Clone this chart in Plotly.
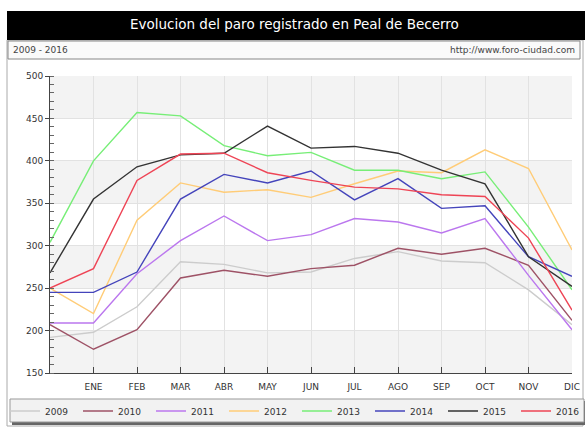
import plotly.graph_objects as go

months = ["ENE", "FEB", "MAR", "ABR", "MAY", "JUN", "JUL", "AGO", "SEP", "OCT", "NOV", "DIC"]
x_idx = list(range(13))  # 0 = start point (no label), 1..12 = months

years = ["2009", "2010", "2011", "2012", "2013", "2014", "2015", "2016"]
v2009 = [192, 198, 228, 281, 278, 268, 269, 285, 293, 282, 280, 248, 207]
v2010 = [207, 178, 201, 262, 271, 264, 273, 277, 297, 290, 297, 277, 212]
v2011 = [209, 209, 267, 306, 335, 306, 313, 332, 328, 315, 332, 265, 201]
v2012 = [250, 220, 330, 374, 363, 366, 357, 373, 388, 386, 413, 391, 295]
v2013 = [304, 400, 457, 453, 418, 406, 410, 389, 389, 379, 387, 322, 248]
v2014 = [245, 245, 269, 355, 384, 374, 388, 354, 379, 344, 347, 287, 264]
v2015 = [268, 355, 393, 407, 409, 441, 415, 417, 409, 389, 373, 287, 252]
v2016 = [250, 273, 377, 408, 409, 386, 377, 369, 367, 360, 358, 309, 224]
values = [v2009, v2010, v2011, v2012, v2013, v2014, v2015, v2016]
colors = ["#cccccc", "#9e5266", "#bb77ee", "#ffcc77", "#77ee77", "#4444bb", "#333333", "#ee4455"]

W, H = 585, 430
L, R, T, B = 50, 572, 76, 373  # plot area in pixels


def px(X):
    return (X - L) / (R - L)


def py(Y):
    return (B - Y) / (B - T)


fig = go.Figure()
for i, (name, vals, col) in enumerate(zip(years, values, colors)):
    fig.add_trace(go.Scatter(x=x_idx, y=vals, mode="lines", name=name,
                             line=dict(color=col, width=1.4),
                             legendwidth=(20 if i == len(years) - 1 else None)))

shapes = []
# alternating bands
for lo in [150, 250, 350, 450]:
    shapes.append(dict(type="rect", xref="paper", yref="y", x0=0, x1=1, y0=lo, y1=lo + 50,
                       fillcolor="#f3f3f3", line=dict(width=0), layer="below"))
# outer frame
shapes.append(dict(type="rect", xref="paper", yref="paper", x0=px(7), x1=px(583), y0=py(40), y1=py(426),
                   line=dict(color="#aaaaaa", width=1), fillcolor="rgba(0,0,0,0)", layer="below"))
# title bar
shapes.append(dict(type="rect", xref="paper", yref="paper", x0=px(7), x1=px(585), y0=py(11), y1=py(40),
                   fillcolor="#000000", line=dict(width=0), layer="below"))
# subtitle box
shapes.append(dict(type="rect", xref="paper", yref="paper", x0=px(8), x1=px(580), y0=py(41), y1=py(59),
                   fillcolor="#fafafa", line=dict(color="#888888", width=1), layer="below"))
# legend shadow + box
shapes.append(dict(type="rect", xref="paper", yref="paper", x0=px(12), x1=px(586), y0=py(401), y1=py(425),
                   fillcolor="#666666", line=dict(width=0), layer="below"))
shapes.append(dict(type="rect", xref="paper", yref="paper", x0=px(10), x1=px(584), y0=py(399), y1=py(422),
                   fillcolor="#f2f2f2", line=dict(color="#999999", width=1), layer="below"))

annotations = [
    dict(text="Evolucion del paro registrado en Peal de Becerro", xref="paper", yref="paper",
         x=px(294), y=py(24), xanchor="center", yanchor="middle", showarrow=False,
         font=dict(family="DejaVu Sans", size=13.5, color="#ffffff")),
    dict(text="2009 - 2016", xref="paper", yref="paper", x=px(11), y=py(50),
         xanchor="left", yanchor="middle", showarrow=False,
         font=dict(family="DejaVu Sans", size=9, color="#444444")),
    dict(text="http://www.foro-ciudad.com", xref="paper", yref="paper", x=px(577), y=py(50),
         xanchor="right", yanchor="middle", showarrow=False,
         font=dict(family="DejaVu Sans", size=9, color="#444444")),
]

fig.update_layout(
    width=W, height=H,
    margin=dict(l=L, r=W - R, t=T, b=H - B, pad=0, autoexpand=False),
    paper_bgcolor="#ffffff", plot_bgcolor="rgba(0,0,0,0)",
    shapes=shapes, annotations=annotations,
    showlegend=True,
    legend=dict(orientation="h", x=px(5), y=py(411), xanchor="left", yanchor="middle",
                bgcolor="rgba(0,0,0,0)", borderwidth=0,
                entrywidth=28, entrywidthmode="pixels",
                font=dict(family="DejaVu Sans", size=9, color="#333333"),
                traceorder="normal"),
    xaxis=dict(range=[0, 12], tickvals=list(range(1, 13)), ticktext=months,
               showgrid=True, gridcolor="#e2e2e2", gridwidth=1,
               showline=True, linecolor="#444444", linewidth=1,
               ticks="inside", ticklen=6, tickcolor="#444444",
               ticklabelstandoff=5,
               tickfont=dict(family="DejaVu Sans", size=9, color="#333333"),
               zeroline=False, fixedrange=True),
    yaxis=dict(range=[150, 500], tickvals=[150, 200, 250, 300, 350, 400, 450, 500],
               showgrid=True, gridcolor="#e2e2e2", gridwidth=1,
               showline=True, linecolor="#444444", linewidth=1,
               ticks="outside", ticklen=4, tickcolor="#444444",
               minor=dict(dtick=10, ticks="inside", ticklen=4, tickcolor="#666666", showgrid=False),
               tickfont=dict(family="DejaVu Sans", size=9, color="#333333"),
               zeroline=False, fixedrange=True),
)

fig.write_html("out.html", config={"displayModeBar": False},
               post_script="document.body.style.margin='0';document.body.style.overflow='hidden';")
